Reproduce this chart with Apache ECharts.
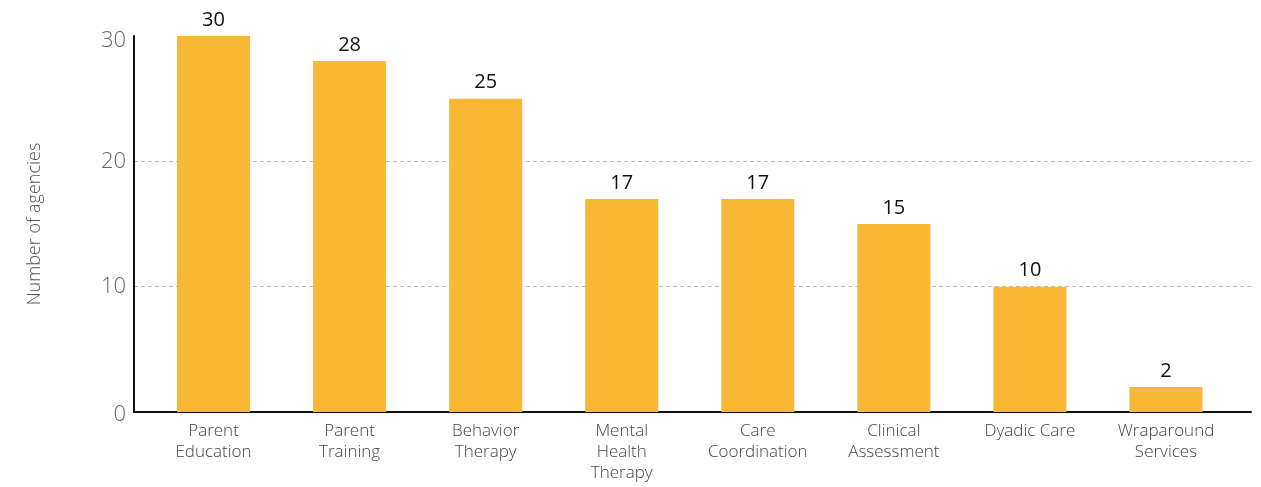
<!DOCTYPE html>
<html><head><meta charset="utf-8">
<script src="https://cdn.jsdelivr.net/npm/echarts@6/dist/echarts.min.js"></script>
<style>html,body{margin:0;padding:0;background:#fff}#c{width:1261px;height:487px}</style>
</head><body><div id="c"></div>
<script>
const categories = ['Parent\nEducation','Parent\nTraining','Behavior\nTherapy','Mental\nHealth\nTherapy','Care\nCoordination','Clinical\nAssessment','Dyadic Care','Wraparound\nServices'];
const values = [30, 28, 25, 17, 17, 15, 10, 2];
const yTicks = [0, 10, 20, 30];
const axisName = 'Number of agencies';

const font = '"Open Sans", "Noto Sans", sans-serif';
const ylab = {color: '#666', fontFamily: font, fontWeight: 300, fontSize: 22};
const chart = echarts.init(document.getElementById('c'));
chart.setOption({
  animation: false,
  grid: [
    {left: 134, right: 10, top: 36, bottom: 75},
    {left: 145.5, right: 27, top: 36, bottom: 75}
  ],
  xAxis: [
    {gridIndex: 0, type: 'value', min: 0, max: 1, show: true,
     axisLine: {show: true, lineStyle: {color: '#111', width: 2}},
     axisTick: {show: false}, axisLabel: {show: false}, splitLine: {show: false}},
    {gridIndex: 1, type: 'category', data: categories,
     axisLine: {show: false}, axisTick: {show: false},
     axisLabel: {color: '#444', fontFamily: font, fontWeight: 300, fontSize: 17, lineHeight: 21, margin: 9, interval: 0}}
  ],
  yAxis: [
    {gridIndex: 0, type: 'value', min: 0, max: 30, interval: 10,
     name: axisName, nameLocation: 'middle', nameGap: 90, nameRotate: 90,
     nameTextStyle: {color: '#555', fontFamily: font, fontWeight: 300, fontSize: 18},
     axisLine: {show: true, lineStyle: {color: '#111', width: 2}},
     axisTick: {show: false},
     axisLabel: Object.assign({}, ylab, {margin: 8,
       formatter: v => v === 30 ? '{a|30}' : v === 0 ? '{b|0}' : (yTicks.includes(v) ? String(v) : ''),
       rich: {a: Object.assign({}, ylab, {padding: [10, 0, 0, 0]}), b: Object.assign({}, ylab, {padding: [6, 0, 0, 0]})}}),
     splitLine: {show: true, showMinLine: false, showMaxLine: false, lineStyle: {color: '#bbb', type: [4, 3], width: 1}}},
    {gridIndex: 1, type: 'value', min: 0, max: 30, show: false}
  ],
  series: [{
    type: 'bar', xAxisIndex: 1, yAxisIndex: 1, data: values, barWidth: 73,
    itemStyle: {color: '#F8B735'},
    label: {show: true, position: 'top', distance: 6, color: '#111', fontFamily: font, fontWeight: 500, fontSize: 20}
  }]
});
</script></body></html>
